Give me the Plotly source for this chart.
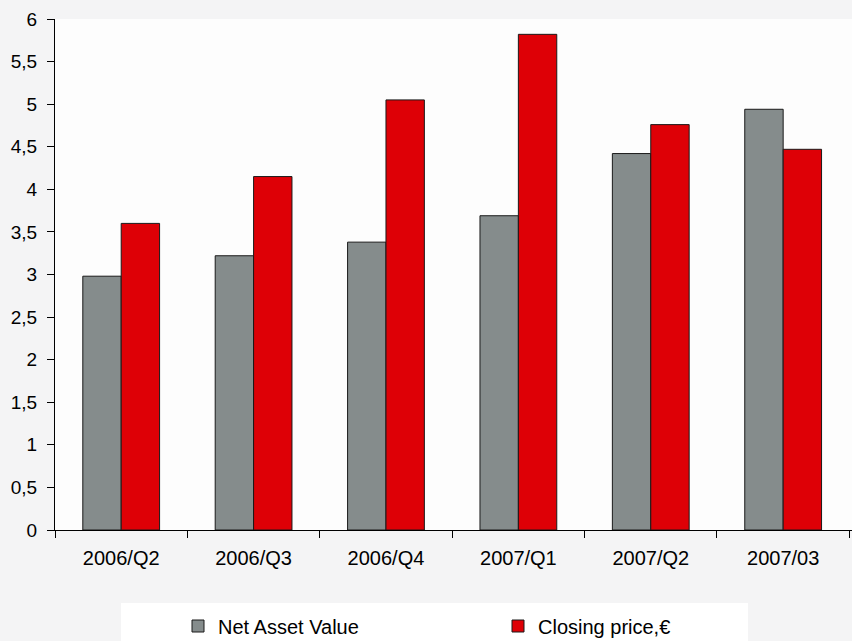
import plotly.graph_objects as go

categories = ["2006/Q2", "2006/Q3", "2006/Q4", "2007/Q1", "2007/Q2", "2007/03"]
nav_values = [2.98, 3.22, 3.38, 3.69, 4.42, 4.94]
close_values = [3.60, 4.15, 5.05, 5.82, 4.76, 4.47]
y_ticks = [0, 0.5, 1, 1.5, 2, 2.5, 3, 3.5, 4, 4.5, 5, 5.5, 6]
y_tick_labels = ["0", "0,5", "1", "1,5", "2", "2,5", "3", "3,5", "4", "4,5", "5", "5,5", "6"]

FONT = "Liberation Sans, Arial, sans-serif"
W, H = 852, 641

fig = go.Figure()
fig.add_trace(go.Bar(
    x=categories, y=nav_values, name="Net Asset Value",
    marker=dict(color="#858C8C", line=dict(color="#1a1a1a", width=1)),
))
fig.add_trace(go.Bar(
    x=categories, y=close_values, name="Closing price,€",
    marker=dict(color="#DE0006", line=dict(color="#1a1a1a", width=1)),
))

# white legend panel
fig.add_shape(type="rect", xref="paper", yref="paper",
              x0=(121 - 55) / 797, x1=(748 - 55) / 797,
              y0=-111 / 511, y1=-(603 - 530) / 511,
              fillcolor="white", line=dict(width=0), layer="below")

fig.update_layout(
    width=W, height=H,
    margin=dict(l=55, r=0, t=19, b=111, autoexpand=False),
    paper_bgcolor="#f4f4f5",
    plot_bgcolor="rgba(255,255,255,0.8)",
    barmode="group", bargap=0.42, bargroupgap=0,
    font=dict(family=FONT, size=19, color="#000000"),
    showlegend=True,
    legend=dict(orientation="h", xref="container", yref="container",
                x=178 / W, xanchor="left",
                y=1 - 626 / H, yanchor="middle",
                bgcolor="rgba(0,0,0,0)", font=dict(size=20, family=FONT),
                entrywidth=275, itemwidth=30, traceorder="normal"),
    xaxis=dict(type="category", range=[-0.5, 5.52], showline=True, linecolor="black",
               linewidth=1, ticks="outside", tickson="boundaries", ticklen=7,
               tickcolor="black", showgrid=False, zeroline=False, automargin=False,
               ticklabelstandoff=10,
               tickfont=dict(size=20, family=FONT)),
    yaxis=dict(range=[0, 6], tickvals=y_ticks, ticktext=y_tick_labels,
               showline=True, linecolor="black", linewidth=1, ticks="outside",
               ticklen=7, tickcolor="black", showgrid=False, zeroline=False,
               automargin=False, ticklabelstandoff=6,
               tickfont=dict(size=19, family=FONT)),
)

fig.write_html("out.html", config={"displayModeBar": False},
               post_script="document.body.style.margin='0';document.body.style.overflow='hidden';")
